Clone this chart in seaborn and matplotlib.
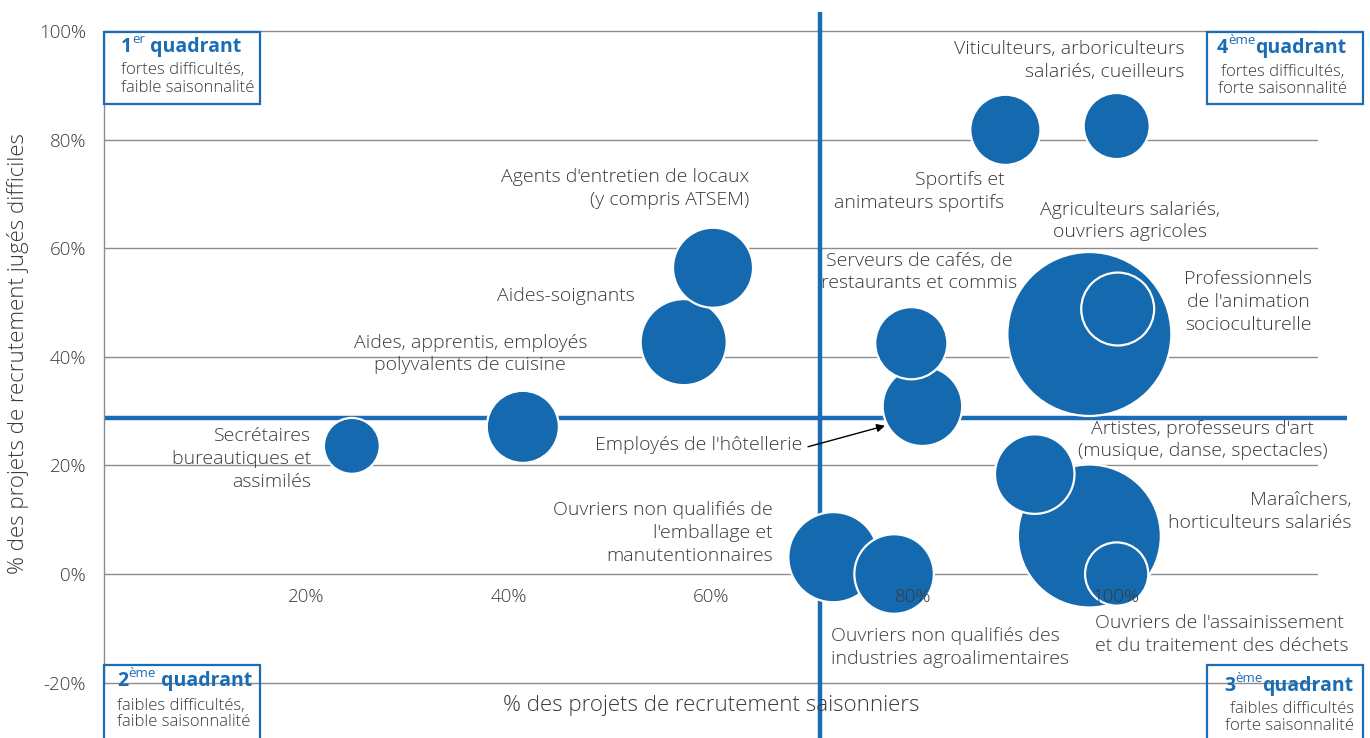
import pandas as pd
import matplotlib.pyplot as plt
import seaborn as sns
from matplotlib.patches import Rectangle

# =========================
# DATA
# =========================
metiers = [
    "Secrétaires bureautiques et assimilés",
    "Aides, apprentis, employés polyvalents de cuisine",
    "Aides-soignants",
    "Agents d'entretien de locaux (y compris ATSEM)",
    "Ouvriers non qualifiés de l'emballage et manutentionnaires",
    "Ouvriers non qualifiés des industries agroalimentaires",
    "Employés de l'hôtellerie",
    "Serveurs de cafés, de restaurants et commis",
    "Sportifs et animateurs sportifs",
    "Viticulteurs, arboriculteurs salariés, cueilleurs",
    "Agriculteurs salariés, ouvriers agricoles",
    "Professionnels de l'animation socioculturelle",
    "Maraîchers, horticulteurs salariés",
    "Artistes, professeurs d'art (musique, danse, spectacles)",
    "Ouvriers de l'assainissement et du traitement des déchets",
]
pct_saisonniers = [24.5, 41.4, 57.3, 60.2, 72.1, 78.1, 80.9, 79.8, 89.1, 100.1, 97.4, 100.2, 97.4, 92.0, 100.1]
pct_difficiles = [23.6, 27.1, 42.7, 56.4, 3.1, 0.0, 30.9, 42.5, 81.8, 82.5, 44.2, 48.8, 7.0, 18.4, 0.0]
nb_projets = [780, 1300, 1850, 1600, 2030, 1580, 1580, 1300, 1230, 1090, 6720, 1330, 5110, 1580, 1000]

seuil_saison = 70.8
seuil_difficulte = 28.7

x_ticks = [20, 40, 60, 80, 100]
y_ticks = [-20, 0, 20, 40, 60, 80, 100]

df = pd.DataFrame({
    "metier": metiers,
    "saison": pct_saisonniers,
    "difficile": pct_difficiles,
    "projets": nb_projets,
})

BLUE = "#1569ae"
LINE_BLUE = "#1a6db4"
GRID = "#8c8c8c"
TXT = "#3a3a3a"

sns.set_theme(style="white")
plt.rcParams["font.family"] = ["Open Sans", "DejaVu Sans"]

fig = plt.figure(figsize=(13.7, 7.38), dpi=100)
ax = fig.add_axes([104 / 1370, 0, 1214 / 1370, 726 / 738])
ax.set_xlim(0, 120)
ax.set_ylim(-30.2, 103.5)

# gridlines behind everything
for yv in y_ticks:
    ax.axhline(yv, color=GRID, lw=1, zorder=0.5)

# quadrant separators
ax.axvline(seuil_saison, color=LINE_BLUE, lw=3.2, zorder=1)
ax.plot([0, 122.9], [seuil_difficulte, seuil_difficulte], color=LINE_BLUE,
        lw=3.2, zorder=1, clip_on=False, solid_capstyle="butt")

# bubbles (area proportional to number of projects)
vmax = 7000
k = (2 * 0.72) ** 2
sns.scatterplot(
    data=df, x="saison", y="difficile", size="projets",
    sizes=(0, k * vmax), size_norm=(0, vmax),
    color=BLUE, edgecolor="white", linewidth=1.6, alpha=1,
    legend=False, ax=ax, zorder=3, clip_on=False,
)

# axes styling
for s in ["top", "right"]:
    ax.spines[s].set_visible(False)
ax.spines["bottom"].set_position(("data", 0))
ax.spines["bottom"].set_visible(False)
ax.spines["left"].set_bounds(-20, 100)
ax.spines["left"].set_color(GRID)
ax.spines["left"].set_linewidth(1)

ax.set_xticks(x_ticks)
ax.set_xticklabels([f"{v}%" for v in x_ticks])
ax.set_yticks(y_ticks)
ax.set_yticklabels([f"{v}%" for v in y_ticks])
ax.tick_params(axis="x", length=0, pad=10, labelsize=13.5)
ax.tick_params(axis="y", length=0, pad=13, labelsize=13.5)
for lab in ax.get_xticklabels() + ax.get_yticklabels():
    lab.set_color(TXT)
    lab.set_fontweight("light")
ax.xaxis.set_zorder(5)
ax.set_xlabel("")
ax.set_ylabel("")

fig.text(711 / 1370, 1 - 706 / 738, "% des projets de recrutement saisonniers",
         ha="center", va="center", fontsize=16, color=TXT, fontweight="light")
fig.text(18 / 1370, 1 - 353 / 738, "% des projets de recrutement jugés difficiles",
         ha="center", va="center", rotation=90, fontsize=16, color=TXT,
         fontweight="light")

# bubble labels
fs = 14
labels = [
    ("Viticulteurs, arboriculteurs\nsalariés, cueilleurs", 106.8, 94.5, "right"),
    ("Agents d'entretien de locaux\n(y compris ATSEM)", 63.8, 71.0, "right"),
    ("Sportifs et\nanimateurs sportifs", 89.0, 70.4, "right"),
    ("Agriculteurs salariés,\nouvriers agricoles", 101.4, 65.0, "center"),
    ("Serveurs de cafés, de\nrestaurants et commis", 80.6, 55.6, "center"),
    ("Professionnels\nde l'animation\nsocioculturelle", 113.1, 50.1, "center"),
    ("Aides-soignants", 52.5, 51.2, "right"),
    ("Aides, apprentis, employés\npolyvalents de cuisine", 36.2, 40.5, "center"),
    ("Secrétaires\nbureautiques et\nassimilés", 20.5, 21.2, "right"),
    ("Artistes, professeurs d'art\n(musique, danse, spectacles)", 108.6, 24.7, "center"),
    ("Ouvriers non qualifiés de\nl'emballage et\nmanutentionnaires", 66.1, 7.6, "right"),
    ("Maraîchers,\nhorticulteurs salariés", 123.3, 11.5, "right"),
    ("Ouvriers non qualifiés des\nindustries agroalimentaires", 71.9, -13.5, "left"),
    ("Ouvriers de l'assainissement\net du traitement des déchets", 98.0, -11.2, "left"),
]
for txt, lx, ly, al in labels:
    ax.text(lx, ly, txt, ha=al, va="center", multialignment=al, fontweight="light",
            fontsize=fs, color=TXT, zorder=6, clip_on=False, linespacing=1.34)

ax.annotate("Employés de l'hôtellerie", xy=(77.2, 27.3), xytext=(69.0, 23.8),
            ha="right", va="center", fontsize=fs, color=TXT, zorder=6,
            fontweight="light",
            arrowprops=dict(arrowstyle="-|>", color="black", lw=1,
                            shrinkA=2, shrinkB=0, relpos=(1, 0.3),
                            mutation_scale=12))

# quadrant boxes
boxes = [
    (0, 86.6, "1", "er", " quadrant", ["fortes difficultés,", "faible saisonnalité"],
     1.7, 97.1, [92.8, 89.5], 1.7, "left"),
    (0, -32.5, "2", "ème", " quadrant", ["faibles difficultés,", "faible saisonnalité"],
     1.3, -19.7, [-24.3, -27.3], 1.3, "left"),
    (109.0, 86.6, "4", "ème", "quadrant", ["fortes difficultés,", "forte saisonnalité"],
     110.0, 96.9, [92.4, 89.3], 116.5, "center"),
    (109.0, -32.5, "3", "ème", "quadrant", ["faibles difficultés", "forte saisonnalité"],
     110.7, -20.6, [-24.9, -28.0], 123.6, "right"),
]
for bx, by, num, sup, rest, lines, tx, ty, lys, lx, al in boxes:
    h = 13.2 if by > 0 else 15.7
    ax.add_patch(Rectangle((bx, by), 15.45, h, fill=False, edgecolor=LINE_BLUE,
                           lw=1.6, zorder=6, clip_on=False))
    t1 = ax.text(tx, ty, num, fontsize=14, fontweight="bold", color=LINE_BLUE,
                 va="center", ha="left", zorder=7, clip_on=False)
    t2 = ax.annotate(sup, xy=(1, 0.85), xycoords=t1, fontsize=9.5, color=LINE_BLUE,
                     va="center", ha="left", zorder=7, annotation_clip=False)
    ax.annotate(rest, xy=(1, 0.5), xycoords=(t2, t1), fontsize=14, fontweight="bold",
                color=LINE_BLUE, va="center", ha="left", zorder=7, annotation_clip=False)
    for line, yy in zip(lines, lys):
        ax.text(lx, yy, line, fontsize=12, color=TXT, ha=al, va="center",
                fontweight="light", zorder=7, clip_on=False)

plt.savefig("out.png", dpi=100)
plt.close()
